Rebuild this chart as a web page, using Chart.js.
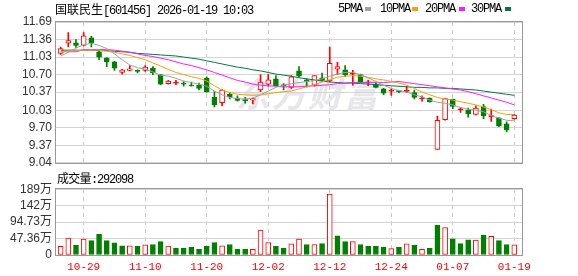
<!DOCTYPE html>
<html lang="zh">
<head>
<meta charset="utf-8">
<title>国联民生 日K</title>
<script src="https://cdn.jsdelivr.net/npm/chart.js@4.4.1/dist/chart.umd.min.js"></script>
<style>
  body { margin:0; background:#fff; }
  #wrap { position:relative; width:578px; height:276px; overflow:hidden; background:#fff; }
  canvas { position:absolute; left:0; }
  .txt { position:absolute; font-size:12px; font-family:'Liberation Mono','Noto Sans CJK SC',monospace; letter-spacing:-1.2px; color:#000; white-space:nowrap; line-height:14px; }
  .cjk { font-family:'Noto Sans CJK SC',sans-serif; letter-spacing:0; }
  .mk { position:absolute; width:6px; height:4px; top:7px; }
</style>
</head>
<body>
<div id="wrap">
  <canvas id="klineChart" width="578" height="174" style="top:0"></canvas>
  <canvas id="volChart" width="578" height="98" style="top:178px"></canvas>

  <!-- tiêu đề + chú thích MA -->
  <div class="txt" style="left:55px;top:2px"><span class="cjk">国联民生</span>[601456] 2026-01-19 10:03</div>
  <div class="txt" style="left:338px;top:2px">5PMA</div><div class="mk" style="left:365px;background:#a0a0a0"></div>
  <div class="txt" style="left:380px;top:2px">10PMA</div><div class="mk" style="left:412px;background:#f0a30a"></div>
  <div class="txt" style="left:425px;top:2px">20PMA</div><div class="mk" style="left:459px;background:#ff1aff"></div>
  <div class="txt" style="left:471px;top:2px">30PMA</div><div class="mk" style="left:505px;background:#007a3d"></div>
  <div class="txt" id="volTitle" style="left:57px;top:171px"></div>
</div>

<script>
// ngày giao dịch (trục x)
const days = ['10-24','10-27','10-28','10-29','10-30','10-31','11-03','11-04','11-05','11-06',
  '11-07','11-10','11-11','11-12','11-13','11-14','11-17','11-18','11-19','11-20',
  '11-21','11-24','11-25','11-26','11-27','11-28','12-01','12-02','12-03','12-04',
  '12-05','12-08','12-09','12-10','12-11','12-12','12-15','12-16','12-17','12-18',
  '12-19','12-22','12-23','12-24','12-25','12-26','12-29','12-30','12-31','01-05',
  '01-06','01-07','01-08','01-09','01-12','01-13','01-14','01-15','01-16','01-19'];
const dateTickIdx = [3, 11, 19, 27, 35, 43, 51, 59];

// giá mở / cao / thấp / đóng
const opens  = [11.10,11.29,11.30,11.25,11.39,11.13,11.01,10.94,10.74,10.78,
  10.765,10.78,10.82,10.70,10.53,10.54,10.525,10.49,10.50,10.63,
  10.27,10.17,10.33,10.26,10.22,10.22,10.41,10.52,10.62,10.495,
  10.46,10.77,10.60,10.50,10.64,10.58,10.80,10.79,10.71,10.70,
  10.545,10.52,10.43,10.388,10.385,10.385,10.36,10.245,10.26,9.29,
  9.85,10.235,10.035,10.03,9.95,10.10,9.91,9.885,9.775,9.87];
const highs  = [11.22,11.49,11.36,11.49,11.42,11.14,11.02,10.95,10.80,10.87,
  10.79,10.87,10.85,10.70,10.59,10.59,10.57,10.56,10.54,10.66,
  10.38,10.42,10.36,10.30,10.27,10.26,10.70,10.70,10.68,10.53,
  10.68,10.85,10.62,10.68,10.73,11.22,10.93,10.87,10.78,10.71,
  10.59,10.535,10.44,10.43,10.39,10.48,10.41,10.30,10.265,9.92,
  10.25,10.24,10.08,10.07,10.11,10.14,10.05,9.89,9.81,9.95];
const lows   = [11.08,11.22,11.21,11.24,11.22,10.98,10.85,10.78,10.71,10.77,
  10.73,10.76,10.70,10.51,10.52,10.51,10.48,10.48,10.41,10.37,
  10.09,10.11,10.24,10.20,10.16,10.15,10.38,10.48,10.49,10.41,
  10.44,10.65,10.47,10.48,10.58,10.56,10.70,10.66,10.50,10.55,
  10.49,10.45,10.32,10.31,10.36,10.36,10.24,10.20,10.18,9.29,
  9.84,10.06,9.99,9.90,9.94,9.87,9.82,9.72,9.62,9.86];
const closes = [11.19,11.34,11.25,11.43,11.30,11.03,10.94,10.82,10.79,10.81,
  10.76,10.84,10.73,10.52,10.58,10.545,10.52,10.485,10.44,10.38,
  10.13,10.41,10.28,10.215,10.21,10.25,10.56,10.60,10.49,10.49,
  10.66,10.67,10.57,10.68,10.59,10.91,10.85,10.70,10.715,10.56,
  10.55,10.46,10.35,10.392,10.38,10.392,10.27,10.25,10.185,9.84,
  10.25,10.10,10.04,9.96,10.07,9.92,9.917,9.74,9.66,9.94];

// đường trung bình
const ma5  = [11.05,11.12,11.20,11.26,11.29,11.25,11.19,11.09,10.98,10.88,
  10.83,10.80,10.75,10.69,10.67,10.63,10.58,10.55,10.52,10.48,
  10.39,10.32,10.27,10.25,10.24,10.26,10.32,10.39,10.46,10.50,
  10.53,10.55,10.57,10.59,10.62,10.67,10.71,10.74,10.74,10.70,
  10.64,10.57,10.50,10.44,10.40,10.37,10.32,10.28,10.22,10.18,
  10.16,10.13,10.08,10.05,10.03,10.00,9.93,9.88,9.84,9.83];
const ma10 = [11.13,11.14,11.15,11.16,11.16,11.16,11.14,11.12,11.09,11.06,
  11.02,10.98,10.92,10.86,10.80,10.74,10.70,10.66,10.63,10.58,
  10.49,10.41,10.36,10.33,10.32,10.31,10.32,10.34,10.36,10.38,
  10.39,10.43,10.47,10.51,10.56,10.61,10.65,10.67,10.68,10.67,
  10.65,10.62,10.60,10.57,10.54,10.50,10.44,10.37,10.32,10.27,
  10.24,10.22,10.19,10.16,10.13,10.09,10.04,9.98,9.95,9.95];
const ma20 = [11.13,11.13,11.13,11.17,11.17,11.17,11.17,11.16,11.14,11.12,
  11.09,11.06,11.04,11.01,10.98,10.94,10.90,10.87,10.83,10.79,
  10.74,10.69,10.64,10.59,10.56,10.52,10.50,10.49,10.48,10.47,
  10.47,10.47,10.48,10.49,10.50,10.51,10.53,10.54,10.55,10.55,
  10.55,10.55,10.55,10.56,10.57,10.55,10.53,10.51,10.49,10.47,
  10.45,10.43,10.41,10.38,10.34,10.30,10.26,10.22,10.18,10.13];
const ma30 = [11.16,11.16,11.16,11.16,11.16,11.15,11.15,11.14,11.13,11.12,
  11.10,11.09,11.08,11.07,11.06,11.05,11.03,11.01,10.99,10.96,
  10.93,10.90,10.87,10.84,10.82,10.79,10.77,10.74,10.71,10.69,
  10.67,10.64,10.62,10.60,10.58,10.56,10.55,10.54,10.54,10.53,
  10.52,10.51,10.50,10.49,10.48,10.47,10.46,10.46,10.45,10.45,
  10.44,10.44,10.43,10.42,10.41,10.39,10.37,10.35,10.33,10.31];

// khối lượng (đơn vị 万), 1 = ngày tăng (đỏ), 0 = ngày giảm (xanh)
const vols = [24.7,48.5,27.5,45.8,41.2,59.5,41.2,34.8,26.5,26.5,
  24.7,29.3,30.2,38.4,25.6,20.1,20.1,22.0,16.5,24.7,
  35.7,26.5,30.2,17.4,17.4,16.5,71.4,35.7,24.7,20.1,
  32.1,45.8,30.2,30.2,32.9,175.7,54.9,38.4,38.4,30.2,
  24.7,24.7,22.0,18.3,22.0,32.1,27.5,16.5,19.2,85.1,
  78.7,46.7,32.9,43.9,43.0,57.6,54.0,41.2,30.2,29.2098];
const volUp = [1,1,0,1,0,0,0,0,0,1, 0,1,0,0,1,0,0,0,0,0,
  0,1,0,0,0,1,1,1,0,0, 1,1,0,1,0,1,0,0,1,0,
  0,0,0,1,0,1,0,1,0,0, 1,0,0,0,1,0,1,0,0,1];

// nhãn trục y
const priceTicks = ['9.04','9.37','9.70','10.03','10.37','10.70','11.03','11.36','11.69'];
const volTicks = ['0','47.36万','94.73万','142万','189万'];

const RED = '#ff0000';
const GREEN = '#008000';
const X_MIN = -0.6, X_MAX = 60;
const axisFont = { family: "'Liberation Sans','Noto Sans CJK SC',sans-serif", size: 12 };

document.getElementById('volTitle').innerHTML =
  '<span class="cjk" style="letter-spacing:-0.7px">成交量</span>:' + Math.round(vols[vols.length - 1] * 10000);

function isUp(i) { return closes[i] >= opens[i]; }
function isCross(i) { return Math.abs(closes[i] - opens[i]) < 0.012; }

//trục x dùng chung cho 2 biểu đồ
function xAxis(showLabels) {
  return {
    type: 'linear', min: X_MIN, max: X_MAX, offset: false,
    afterBuildTicks: axis => { axis.ticks = dateTickIdx.map(v => ({ value: v })); },
    afterFit: s => { s.height = showLabels ? 21 : 0; },
    grid: { color: '#c8c8c8', lineWidth: 1, drawTicks: false, offset: false },
    border: { display: false, dash: [4, 4] },
    ticks: {
      display: showLabels, autoSkip: false, maxRotation: 0, padding: 5, color: RED,
      font: { family: "'Liberation Mono',monospace", size: 11 },
      callback: v => days[v]
    }
  };
}

function yAxis(min, max, labels) {
  return {
    min: min, max: max, beginAtZero: false,
    afterFit: s => { s.width = 56; },
    afterBuildTicks: axis => { axis.ticks = labels.map(l => ({ value: parseFloat(l) })); },
    grid: { color: '#d4d4d4', lineWidth: 1, drawTicks: false },
    border: { display: false },
    ticks: { autoSkip: false, padding: 4, color: '#333', font: axisFont, callback: (v, idx) => labels[idx] }
  };
}

//khung viền xám quanh vùng vẽ
const frame = {
  id: 'frame',
  beforeDatasetsDraw(chart, args, opts) {
    const { ctx, chartArea: a } = chart;
    ctx.save();
    if (opts.watermark) {
      ctx.fillStyle = 'rgba(210,210,218,0.55)';
      ctx.font = 'italic bold 34px "Noto Sans CJK SC"';
      ['东', '方', '财', '富'].forEach((ch, k) => ctx.fillText(ch, 236 + k * 36, a.top + 85));
    }
    ctx.strokeStyle = '#999';
    ctx.lineWidth = 1;
    ctx.strokeRect(Math.round(a.left) - 0.5, Math.round(a.top) - 0.5,
      Math.round(a.right - a.left) + 1, Math.round(a.bottom - a.top) + 1);
    ctx.restore();
  }
};

function maLine(label, values, color, order) {
  return {
    type: 'line', label: label, data: values.map((v, i) => ({ x: i, y: v })),
    borderColor: color, borderWidth: 1, pointRadius: 0, tension: 0, fill: false, order: order
  };
}

//biểu đồ nến
new Chart(document.getElementById('klineChart'), {
  type: 'bar',
  data: {
    datasets: [
      maLine('5PMA', ma5, '#a0a0a0', 1),
      maLine('10PMA', ma10, '#f0a30a', 2),
      maLine('20PMA', ma20, '#ff1aff', 3),
      maLine('30PMA', ma30, '#007a3d', 4),
      {
        label: 'body',
        data: opens.map((o, i) => ({ x: i, y: [Math.min(o, closes[i]), Math.max(o, closes[i])] })),
        backgroundColor: opens.map((o, i) => isUp(i) ? (isCross(i) ? RED : '#fff') : GREEN),
        borderColor: opens.map((o, i) => isUp(i) ? RED : GREEN),
        borderWidth: 1, borderSkipped: false, barThickness: 5, minBarLength: 1,
        grouped: false, order: 10
      },
      {
        label: 'wick',
        data: lows.map((l, i) => ({ x: i, y: [l, highs[i]] })),
        backgroundColor: opens.map((o, i) => isUp(i) ? RED : GREEN),
        borderWidth: 0, barThickness: 1, grouped: false, order: 11
      }
    ]
  },
  options: {
    responsive: false, animation: false, devicePixelRatio: 1,
    layout: { padding: { top: 22, bottom: 9, left: 0, right: 56 } },
    plugins: { legend: { display: false }, tooltip: { enabled: false }, frame: { watermark: true } },
    scales: { x: xAxis(false), y: yAxis(9.04, 11.69, priceTicks) }
  },
  plugins: [frame]
});

//biểu đồ khối lượng
new Chart(document.getElementById('volChart'), {
  type: 'bar',
  data: {
    datasets: [{
      label: 'vol',
      data: vols.map((v, i) => ({ x: i, y: v })),
      backgroundColor: volUp.map(u => u ? '#fff' : GREEN),
      borderColor: volUp.map(u => u ? RED : GREEN),
      borderWidth: 1, borderSkipped: false, barThickness: 5, grouped: false
    }]
  },
  options: {
    responsive: false, animation: false, devicePixelRatio: 1,
    layout: { padding: { top: 8, bottom: 0, left: 0, right: 56 } },
    plugins: { legend: { display: false }, tooltip: { enabled: false }, frame: { watermark: false } },
    scales: { x: xAxis(true), y: yAxis(0, 189.45, volTicks) }
  },
  plugins: [frame]
});
</script>
</body>
</html>
